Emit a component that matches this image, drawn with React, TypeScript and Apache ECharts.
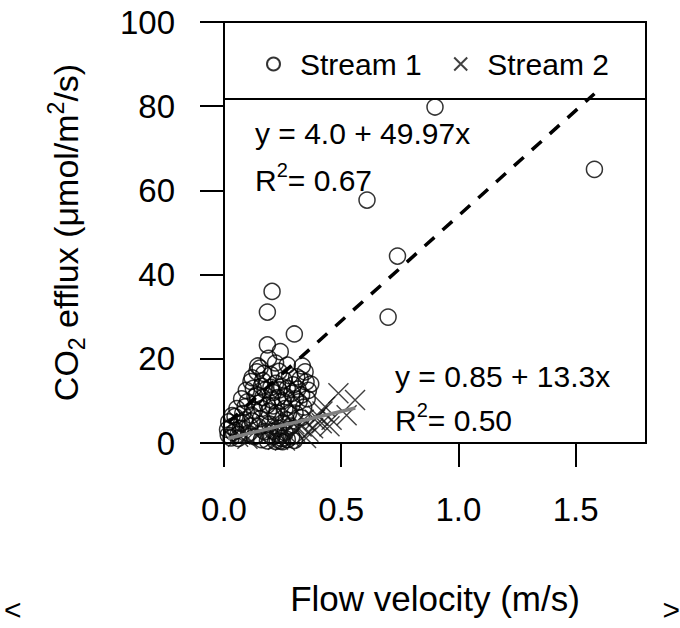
import React, { useEffect, useRef } from "react";
import * as echarts from "echarts";

// Stream 1 (open circles)
const stream1X = [0.9, 1.58, 0.61, 0.74, 0.7, 0.3, 0.205, 0.185, 0.185, 0.24, 0.19, 0.144, 0.334, 0.115, 0.154, 0.14, 0.346, 0.31, 0.175, 0.246, 0.289, 0.331, 0.132, 0.203, 0.09, 0.161, 0.26, 0.047, 0.118, 0.218, 0.303, 0.033, 0.075, 0.146, 0.232, 0.018, 0.104, 0.203, 0.246, 0.289, 0.061, 0.175, 0.22, 0.27, 0.16, 0.1, 0.29, 0.36, 0.33, 0.25, 0.05, 0.08, 0.12, 0.19, 0.23, 0.21, 0.14, 0.28, 0.17, 0.35, 0.03, 0.26, 0.24, 0.22, 0.02, 0.27, 0.22, 0.12, 0.195, 0.265, 0.06, 0.15, 0.32, 0.23,
  0.04, 0.07, 0.09, 0.11, 0.13, 0.155, 0.165, 0.185, 0.2, 0.21, 0.225, 0.235, 0.25, 0.255, 0.265, 0.275, 0.285, 0.295, 0.305, 0.315, 0.325, 0.34, 0.355, 0.37, 0.13, 0.16, 0.185, 0.21, 0.25, 0.27, 0.3, 0.035, 0.055, 0.075, 0.095, 0.165, 0.2, 0.235, 0.125, 0.015];
const stream1Y = [79.8, 65.0, 57.7, 44.4, 29.9, 25.9, 36.0, 31.1, 23.3, 21.7, 20.1, 18.3, 18.3, 14.6, 17.8, 16.9, 16.9, 15.7, 12.6, 13.4, 11.8, 11.4, 11.0, 10.2, 8.6, 8.2, 8.2, 6.3, 6.6, 6.3, 7.1, 3.9, 4.7, 3.9, 3.5, 1.9, 2.3, 1.5, 1.1, 1.5, 1.1, 2.7, 14.2, 13.0, 13.5, 9.8, 9.0, 12.5, 6.0, 4.8, 3.0, 7.0, 5.2, 7.5, 10.8, 12.0, 11.5, 16.0, 16.5, 14.5, 1.2, 2.5, 0.5, 0.4, 5.0, 18.5, 19.0, 15.5, 4.5, 5.5, 2.0, 9.5, 9.8, 2.0,
  2.5, 3.5, 5.5, 4.0, 7.8, 5.8, 10.8, 9.0, 13.2, 8.8, 7.2, 12.6, 10.0, 15.0, 11.0, 7.0, 4.0, 13.8, 10.5, 12.8, 15.2, 8.5, 10.5, 14.0, 1.5, 0.8, 0.5, 2.8, 0.3, 0.8, 0.6, 6.5, 8.2, 10.5, 12.5, 14.8, 16.2, 17.0, 13.0, 3.2];

// Stream 2 (crosses)
const stream2X = [0.488, 0.559, 0.523, 0.431, 0.388, 0.459, 0.331, 0.36, 0.303, 0.417, 0.06, 0.08, 0.1, 0.12, 0.15, 0.18, 0.2, 0.22, 0.25, 0.27, 0.28, 0.23, 0.3, 0.34, 0.38, 0.4, 0.45, 0.42, 0.26, 0.35];
const stream2Y = [11.8, 10.2, 6.6, 8.6, 5.5, 5.5, 3.9, 2.7, 2.7, 4.7, 1.5, 2.5, 1.0, 3.0, 2.0, 4.0, 2.5, 5.0, 3.5, 6.0, 1.5, 0.8, 4.5, 5.5, 3.5, 6.5, 4.0, 7.5, 0.6, 1.2];

// Regression fits (intercept, slope, x range)
const fit1 = { a: 4.0, b: 49.97, x0: 0.018, x1: 1.58 };
const fit2 = { a: 0.85, b: 13.3, x0: 0.017, x1: 0.56 };

const xTicks = [0, 0.5, 1.0, 1.5];
const yTicks = [0, 20, 40, 60, 80, 100];

const FONT = "'Liberation Sans', Arial, sans-serif";
const CROSS = "path://M0,0L10,10M10,0L0,10";

export default function App() {
  const ref = useRef<HTMLDivElement>(null);
  useEffect(() => {
    if (!ref.current) return;
    const chart = echarts.init(ref.current, undefined, { renderer: "svg" });
    const s1 = stream1X.map((x, i) => [x, stream1Y[i]]);
    const s2 = stream2X.map((x, i) => [x, stream2Y[i]]);
    const line1 = [fit1.x0, fit1.x1].map((x) => [x, fit1.a + fit1.b * x]);
    const line2 = [fit2.x0, fit2.x1].map((x) => [x, fit2.a + fit2.b * x]);
    chart.setOption({
      animation: false,
      textStyle: { fontFamily: FONT },
      grid: {
        left: 224,
        top: 22,
        width: 422,
        height: 421,
        show: true,
        borderColor: "#000",
        borderWidth: 2,
        backgroundColor: "transparent",
      },
      xAxis: {
        type: "value",
        min: 0,
        max: 1.8,
        name: "Flow velocity (m/s)",
        nameLocation: "middle",
        nameGap: 138,
        nameTextStyle: { fontSize: 35, color: "#000", fontFamily: FONT },
        axisLine: { show: false },
        splitLine: { show: false },
        axisTick: { show: true, length: 24, customValues: xTicks, lineStyle: { color: "#000", width: 2 } },
        axisLabel: {
          customValues: xTicks,
          formatter: (v: number) => v.toFixed(1),
          fontSize: 33,
          color: "#000",
          margin: 50,
          fontFamily: FONT,
        },
      },
      yAxis: {
        type: "value",
        min: 0,
        max: 100,
        interval: 20,
        name: "{a|CO}{b|2}{a| efflux (μmol/m}{c|2}{a|/s)}",
        nameLocation: "middle",
        nameRotate: 90,
        nameGap: 136,
        nameTextStyle: {
          color: "#000",
          fontFamily: FONT,
          rich: {
            a: { fontSize: 34, lineHeight: 44, color: "#000", fontFamily: FONT },
            b: { fontSize: 23, lineHeight: 24, verticalAlign: "bottom", color: "#000", fontFamily: FONT },
            c: { fontSize: 23, lineHeight: 24, verticalAlign: "top", color: "#000", fontFamily: FONT },
          },
        },
        axisLine: { show: false },
        splitLine: { show: false },
        axisTick: { show: true, length: 24, customValues: yTicks, lineStyle: { color: "#000", width: 2 } },
        axisLabel: { customValues: yTicks, fontSize: 33, color: "#000", margin: 49, fontFamily: FONT },
      },
      legend: {
        data: ["Stream 1", "Stream 2"],
        left: 261,
        top: 44,
        z: 20,
        itemWidth: 13,
        itemHeight: 13,
        itemGap: 30,
        textStyle: { fontSize: 30, color: "#000", fontFamily: FONT, padding: [0, 0, 0, 15] },
      },
      graphic: [
        {
          type: "rect",
          z: 1,
          shape: { x: 224, y: 22, width: 422, height: 77 },
          style: { fill: "#fff", stroke: "#000", lineWidth: 2 },
        },
        {
          type: "text",
          z: 20,
          left: 255,
          top: 118,
          style: { text: "y = 4.0 + 49.97x", fontSize: 30, fill: "#000", fontFamily: FONT },
        },
        {
          type: "text",
          z: 20,
          left: 255,
          top: 160,
          style: {
            text: "{r|R}{s|2}{r|= 0.67}",
            fill: "#000",
            rich: {
              r: { fontSize: 30, lineHeight: 40, fill: "#000", fontFamily: FONT },
              s: { fontSize: 20, lineHeight: 20, verticalAlign: "top", fill: "#000", fontFamily: FONT },
            },
          },
        },
        {
          type: "text",
          z: 20,
          left: 395,
          top: 361,
          style: { text: "y = 0.85 + 13.3x", fontSize: 30, fill: "#000", fontFamily: FONT },
        },
        {
          type: "text",
          z: 20,
          left: 395,
          top: 400,
          style: {
            text: "{r|R}{s|2}{r|= 0.50}",
            fill: "#000",
            rich: {
              r: { fontSize: 30, lineHeight: 40, fill: "#000", fontFamily: FONT },
              s: { fontSize: 20, lineHeight: 20, verticalAlign: "top", fill: "#000", fontFamily: FONT },
            },
          },
        },
        {
          type: "text",
          left: 4,
          top: 594,
          style: { text: "<", fontSize: 30, fill: "#000", fontFamily: FONT },
        },
        {
          type: "text",
          right: 0,
          top: 594,
          style: { text: ">", fontSize: 30, fill: "#000", fontFamily: FONT },
        },
      ],
      series: [
        {
          name: "Stream 1",
          type: "scatter",
          data: s1,
          symbol: "circle",
          symbolSize: 16,
          z: 3,
          itemStyle: { color: "rgba(0,0,0,0)", borderColor: "#000", borderWidth: 1.5 },
        },
        {
          name: "Stream 2",
          type: "scatter",
          data: s2,
          symbol: CROSS,
          symbolSize: 20,
          z: 3,
          itemStyle: { color: "none", borderColor: "#111", borderWidth: 1.4 },
        },
        {
          type: "line",
          data: line1,
          symbol: "none",
          z: 4,
          lineStyle: { color: "#000", width: 3.5, type: [13, 11] },
        },
        {
          type: "line",
          data: line2,
          symbol: "none",
          z: 4,
          lineStyle: { color: "#808080", width: 3.5 },
        },
      ],
    });
    return () => chart.dispose();
  }, []);
  return <div ref={ref} style={{ position: "absolute", left: 0, top: 0, width: 680, height: 628 }} />;
}
